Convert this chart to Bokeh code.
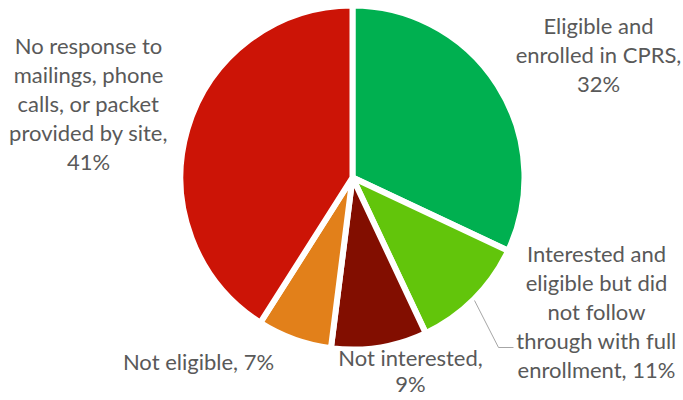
from bokeh.plotting import figure
from bokeh.models import Range1d, ColumnDataSource
from bokeh.core.properties import value
from bokeh.embed import file_html
from bokeh.resources import INLINE
import math

# ---- data ----
categories = ["Eligible and enrolled in CPRS",
              "Interested and eligible but did not follow through with full enrollment",
              "Not interested",
              "Not eligible",
              "No response to mailings, phone calls, or packet provided by site"]
values = [32, 11, 9, 7, 41]
colors = ["#00B050", "#62C50B", "#820E00", "#E2801A", "#CC1406"]
label_lines = [
    ["Eligible and", "enrolled in CPRS,", "{v}%"],
    ["Interested and", "eligible but did", "not follow", "through with full", "enrollment, {v}%"],
    ["Not interested,", "{v}%"],
    ["Not eligible, {v}%"],
    ["No response to", "mailings, phone", "calls, or packet", "provided by site,", "{v}%"],
]

# ---- layout (pixel coordinates, y measured from top) ----
W, H = 683, 400
cx, cy, r = 352, 177, 172
gap = 6
label_pos = [(598, 25), (596, 253), (410, 357), (198, 361), (88, 45)]
line_steps = [29, 29, 26, 29, 29]
font = "Lato"
font_size = "22px"
text_color = "#595959"

p = figure(width=W, height=H, output_backend="svg", toolbar_location=None,
           x_range=Range1d(0, W), y_range=Range1d(0, H), min_border=0)
p.axis.visible = False
p.grid.visible = False
p.outline_line_color = None
p.background_fill_color = "white"

total = sum(values)
starts, ends = [], []
acc = 0.0
for v in values:
    a0 = math.pi / 2 - 2 * math.pi * acc / total
    acc += v
    a1 = math.pi / 2 - 2 * math.pi * acc / total
    starts.append(a0)
    ends.append(a1)

src = ColumnDataSource(dict(start=starts, end=ends, color=colors))
p.wedge(x=cx, y=H - cy, radius=r, start_angle="start", end_angle="end",
        direction="clock", fill_color="color", line_color="white",
        line_width=gap, source=src)

# leader line for the small light-green slice label
p.line(x=[474, 498, 513], y=[H - 300, H - 347, H - 347], line_color="#A6A6A6", line_width=1)

xs, ys, ts = [], [], []
for lines, (lx, ly), v, step in zip(label_lines, label_pos, values, line_steps):
    for i, ln in enumerate(lines):
        xs.append(lx)
        ys.append(H - (ly + i * step))
        ts.append(ln.format(v=v))

p.text(x=xs, y=ys, text=ts, text_align="center", text_baseline="middle",
       text_font=value(font), text_font_size=font_size, text_color=text_color)

open("out.html", "w").write(file_html(p, INLINE))
